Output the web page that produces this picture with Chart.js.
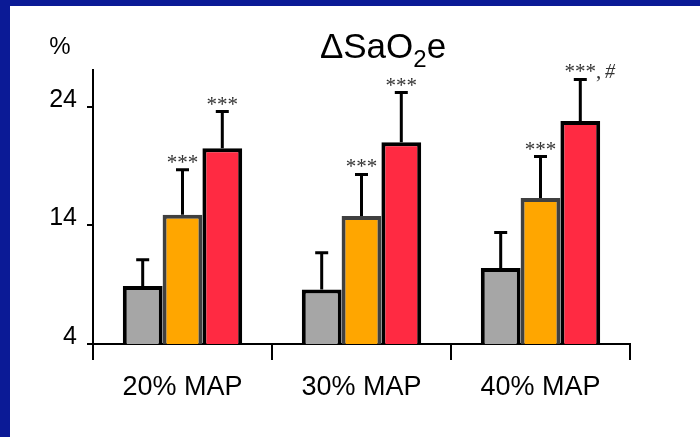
<!DOCTYPE html>
<html>
<head>
<meta charset="utf-8">
<script src="https://cdn.jsdelivr.net/npm/chart.js@4.4.1/dist/chart.umd.min.js"></script>
<style>
  html, body { margin: 0; padding: 0; background: #fff; }
  #frame { width: 700px; height: 437px; box-sizing: border-box; border-left: 10px solid #0b1a96; border-top: 6px solid #0b1a96; background: #fff; }
  #chart { display: block; }
</style>
</head>
<body>
<div id="frame"><canvas id="chart" width="690" height="431"></canvas></div>
<script>
// valores
const categories = ["20% MAP", "30% MAP", "40% MAP"];
const grayValues = [8.9, 8.6, 10.4];
const grayErrors = [2.2, 3.1, 3.0];
const orangeValues = [14.9, 14.8, 16.3];
const orangeErrors = [3.8, 3.5, 3.5];
const redValues = [20.5, 21.0, 22.8];
const redErrors = [3.1, 4.2, 3.5];
const grayMarks = ["", "", ""];
const orangeMarks = ["***", "***", "***"];
const redMarks = ["***", "***", "***, #"];
const yTicks = [4, 14, 24];

const sans = "'Liberation Sans', Arial, sans-serif";
const serif = "'Liberation Serif', 'Times New Roman', serif";

// barras de error (solo hacia arriba) y asteriscos
const errorBars = {
    id: "errorBars",
    afterDatasetsDraw(chart) {
        const ctx = chart.ctx;
        const y = chart.scales.y;
        chart.data.datasets.forEach((ds, i) => {
            const meta = chart.getDatasetMeta(i);
            meta.data.forEach((bar, j) => {
                const top = y.getPixelForValue(ds.data[j] + ds.errors[j]);
                ctx.save();
                ctx.strokeStyle = "#000";
                ctx.lineWidth = 3;
                ctx.beginPath();
                ctx.moveTo(bar.x, bar.y);
                ctx.lineTo(bar.x, top);
                ctx.moveTo(bar.x - 6.5, top);
                ctx.lineTo(bar.x + 6.5, top);
                ctx.stroke();

                const mark = ds.marks[j];
                if (mark) {
                    const parts = mark.split(",");
                    ctx.fillStyle = "#333";
                    ctx.font = "21px " + serif;
                    ctx.textBaseline = "alphabetic";
                    ctx.textAlign = "center";
                    ctx.fillText(parts[0], bar.x, top - 1);
                    if (parts.length > 1) {
                        const w = ctx.measureText(parts[0]).width;
                        ctx.textAlign = "left";
                        ctx.fillText(",", bar.x + w / 2, top - 1);
                        ctx.font = "italic 20px " + serif;
                        ctx.fillText(parts[1].trim(), bar.x + w / 2 + 9, top - 1);
                    }
                }
                ctx.restore();
            });
        });
    }
};

// titulo con subindice y etiqueta "%"
const titles = {
    id: "titles",
    afterDraw(chart) {
        const ctx = chart.ctx;
        ctx.save();
        ctx.fillStyle = "#000";
        ctx.textBaseline = "alphabetic";
        ctx.textAlign = "left";
        const big = "35px " + sans, small = "24px " + sans;
        ctx.font = big;
        const a = "\u0394SaO", b = "2", c = "e";
        const wa = ctx.measureText(a).width;
        const wc = ctx.measureText(c).width;
        ctx.font = small;
        const wb = ctx.measureText(b).width;
        const x = 373 - (wa + wb + wc) / 2;
        const base = 52;
        ctx.font = big;
        ctx.fillText(a, x, base);
        ctx.font = small;
        ctx.fillText(b, x + wa, base + 9);
        ctx.font = big;
        ctx.fillText(c, x + wa + wb, base);

        ctx.font = "24px " + sans;
        ctx.textAlign = "center";
        ctx.fillText("%", 50, 48);
        ctx.restore();
    }
};

new Chart(document.getElementById("chart"), {
    type: "bar",
    data: {
        labels: categories,
        datasets: [
            { data: grayValues, errors: grayErrors, marks: grayMarks, backgroundColor: "#a6a6a6", borderColor: "#000", borderWidth: 4, borderSkipped: false },
            { data: orangeValues, errors: orangeErrors, marks: orangeMarks, backgroundColor: "#ffa600", borderColor: "#404040", borderWidth: 4, borderSkipped: false },
            { data: redValues, errors: redErrors, marks: redMarks, backgroundColor: "#ff2a42", borderColor: "#000", borderWidth: 4, borderSkipped: false }
        ]
    },
    options: {
        responsive: false,
        animation: false,
        devicePixelRatio: 1,
        layout: { padding: { top: 64, right: 70, bottom: 0, left: 0 } },
        plugins: { legend: { display: false }, title: { display: false }, tooltip: { enabled: false } },
        datasets: { bar: { categoryPercentage: 0.667, barPercentage: 1 } },
        scales: {
            x: {
                afterFit: s => { s.height = 93; },
                grid: { drawOnChartArea: false, tickLength: 16, color: "#000", lineWidth: 2 },
                border: { display: true, color: "#000", width: 2 },
                ticks: { color: "#000", font: { family: sans, size: 27 }, padding: 11 }
            },
            y: {
                min: 4,
                max: 27.1,
                afterFit: s => { s.width = 83; },
                afterBuildTicks: s => { s.ticks = yTicks.map(v => ({ value: v })); },
                grid: { drawOnChartArea: false, tickLength: 6, color: "#000", lineWidth: 2 },
                border: { display: true, color: "#000", width: 2 },
                ticks: { color: "#000", font: { family: sans, size: 25 }, padding: 10, labelOffset: -7 }
            }
        }
    },
    plugins: [errorBars, titles]
});
</script>
</body>
</html>
